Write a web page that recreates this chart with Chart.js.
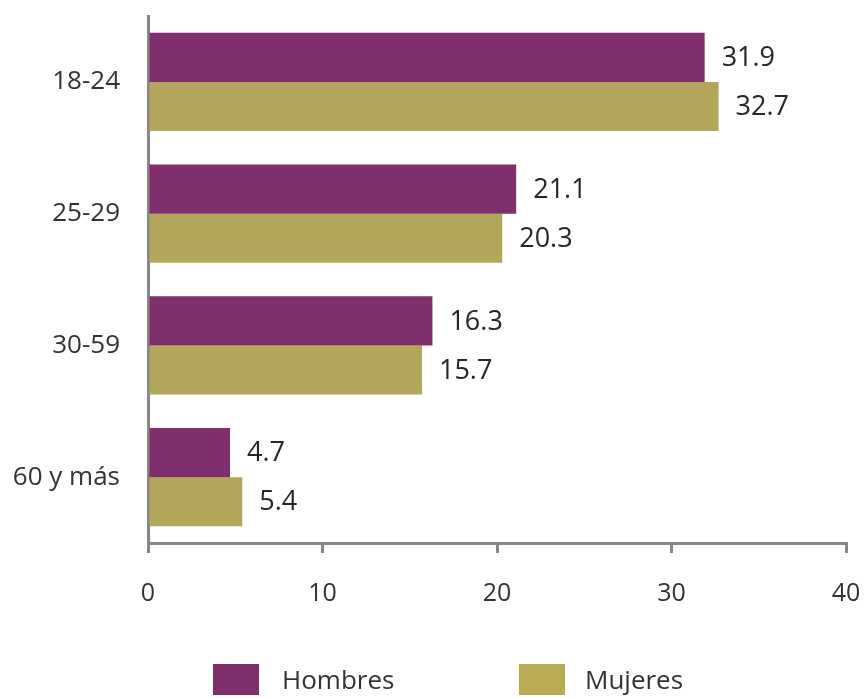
<!DOCTYPE html>
<html>
<head>
<meta charset="utf-8">
<script src="https://cdn.jsdelivr.net/npm/chart.js@4"></script>
<style>
  html, body { margin: 0; padding: 0; background: #fff; }
  #wrap { position: relative; width: 864px; height: 698px; overflow: hidden; }
  .key { position: absolute; top: 664px; width: 46px; height: 31px; }
  .lbl { position: absolute; top: 661px; font: 26px "Open Sans", sans-serif; color: #333; line-height: 36px; }
</style>
</head>
<body>
<div id="wrap">
  <canvas id="chart"></canvas>
  <div class="key" style="left:213px;background:#7f2f6b"></div>
  <div class="lbl" style="left:282px">Hombres</div>
  <div class="key" style="left:519px;background:#b9aa54"></div>
  <div class="lbl" style="left:585px">Mujeres</div>
</div>
<script>
const categories = ['18-24', '25-29', '30-59', '60 y más'];
const hombres = [31.9, 21.1, 16.3, 4.7];
const mujeres = [32.7, 20.3, 15.7, 5.4];
const xTicks = [0, 10, 20, 30, 40];

const axisGrey = '#878787';

const valueLabels = {
  id: 'valueLabels',
  afterDatasetsDraw(chart) {
    const ctx = chart.ctx;
    ctx.save();
    ctx.font = '27px "Open Sans", sans-serif';
    ctx.fillStyle = '#262626';
    ctx.textAlign = 'left';
    ctx.textBaseline = 'middle';
    chart.data.datasets.forEach((ds, i) => {
      chart.getDatasetMeta(i).data.forEach((bar, j) => {
        ctx.fillText(ds.data[j].toFixed(1), bar.x + 17, bar.y + 1);
      });
    });
    ctx.restore();
  }
};

new Chart(document.getElementById('chart'), {
  type: 'bar',
  data: {
    labels: categories,
    datasets: [
      { label: 'Hombres', data: hombres, backgroundColor: '#7f2f6b', categoryPercentage: 0.745, barPercentage: 1 },
      { label: 'Mujeres', data: mujeres, backgroundColor: '#b2a65a', categoryPercentage: 0.745, barPercentage: 1 }
    ]
  },
  options: {
    indexAxis: 'y',
    responsive: true,
    maintainAspectRatio: false,
    animation: false,
    layout: { padding: { top: 16, right: 18, left: 0, bottom: 0 } },
    plugins: { legend: { display: false }, tooltip: { enabled: false } },
    scales: {
      x: {
        min: 0, max: 40,
        afterBuildTicks: s => { s.ticks = xTicks.map(v => ({ value: v })); },
        afterFit: s => { s.height = 155; s.paddingLeft = 0; s.paddingRight = 0; },
        grid: { display: true, drawOnChartArea: false, drawTicks: true, tickLength: 10, color: axisGrey, lineWidth: 3 },
        border: { display: true, color: axisGrey, width: 3 },
        ticks: { padding: 26, color: '#333', font: { family: 'Open Sans', size: 25 } }
      },
      y: {
        afterFit: s => { s.width = 148; s.paddingTop = 0; s.paddingBottom = 0; },
        grid: { display: false, drawTicks: false },
        border: { display: true, color: axisGrey, width: 3 },
        ticks: { padding: 28, color: '#333', font: { family: 'Open Sans', size: 26 } }
      }
    }
  },
  plugins: [valueLabels]
});
</script>
</body>
</html>
